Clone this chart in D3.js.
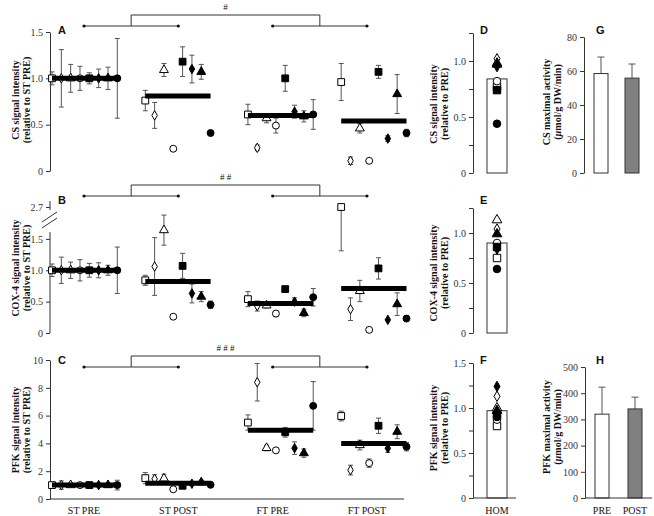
<!DOCTYPE html>
<html><head><meta charset="utf-8">
<script src="https://cdn.jsdelivr.net/npm/d3@7"></script>
<style>body{margin:0;background:#fff}svg{display:block}</style>
</head><body><svg id="c" width="654" height="516"></svg>
<script>
// ---------------- DATA ----------------
const groups = ["ST PRE", "ST POST", "FT PRE", "FT POST"];
// subject marker order: open square, open diamond, open triangle, open circle, filled square, filled diamond, filled triangle, filled circle
const subjects = ["S1", "S2", "S3", "S4", "S5", "S6", "S7", "S8"];

const csValues = [
  [1, 1, 1, 1, 1, 1, 1, 1],
  [0.76, 0.60, 1.09, 0.24, 1.18, 1.10, 1.07, 0.41],
  [0.61, 0.25, 0.57, 0.49, 1.00, 0.64, 0.59, 0.61],
  [0.96, 0.11, 0.46, 0.11, 1.07, 0.35, 0.83, 0.41]
];
const csErrors = [
  [0.07, 0.31, 0.15, 0.13, 0.06, 0.10, 0.12, 0.43],
  [0.11, 0.14, 0.07, 0.02, 0.16, 0.15, 0.08, 0],
  [0.11, 0.03, 0.05, 0.08, 0.14, 0.07, 0.06, 0.16],
  [0.20, 0.04, 0.05, 0, 0.07, 0.03, 0.21, 0.04]
];
const csGroupMeans = [1.0, 0.81, 0.60, 0.54];

const coxValues = [
  [1, 1, 1, 1, 1, 1, 1, 1],
  [0.84, 1.06, 1.64, 0.26, 1.07, 0.63, 0.58, 0.45],
  [0.54, 0.43, 0.44, 0.31, 0.70, 0.50, 0.32, 0.57],
  [2.7, 0.38, 0.67, 0.05, 1.03, 0.21, 0.46, 0.23]
];
const coxErrors = [
  [0.10, 0.21, 0.13, 0.17, 0.11, 0.12, 0.08, 0.37],
  [0.08, 0.46, 0.24, 0, 0.20, 0.15, 0.08, 0.06],
  [0.12, 0.08, 0.04, 0.05, 0, 0.06, 0.06, 0.14],
  [1.39, 0.18, 0.17, 0, 0.17, 0, 0.18, 0.04]
];
const coxGroupMeans = [1.0, 0.82, 0.47, 0.71];

const pfkValues = [
  [1, 1, 1, 1, 1, 1, 1, 1],
  [1.50, 1.45, 1.48, 0.70, 0.95, 1.10, 1.20, 1.02],
  [5.50, 8.40, 3.67, 3.50, 4.80, 3.66, 3.30, 6.70],
  [5.97, 2.08, 3.88, 2.58, 5.27, 3.65, 4.84, 3.76]
];
const pfkErrors = [
  [0.15, 0.30, 0.15, 0.15, 0.20, 0.15, 0.15, 0.35],
  [0.40, 0.30, 0.30, 0, 0.15, 0.10, 0.15, 0.10],
  [0.55, 1.35, 0.20, 0.15, 0.35, 0.45, 0.30, 1.75],
  [0.35, 0.35, 0.35, 0.30, 0.55, 0.30, 0.50, 0.30]
];
const pfkGroupMeans = [1.0, 1.13, 4.94, 4.0];

const homCategory = ["HOM"];
const homCS = [0.77, 1.02, 0.98, 0.82, 0.74, 0.95, 0.97, 0.44];
const homCSMean = 0.84;
const homCOX = [0.75, 1.04, 1.13, 0.90, 0.86, 0.84, 0.99, 0.64];
const homCOXMean = 0.90;
const homPFK = [0.80, 1.13, 1.00, 0.87, 0.92, 1.24, 0.97, 0.90];
const homPFKMean = 0.97;

const timepoints = ["PRE", "POST"];
const csActivity = [58.5, 55.8];
const csActivitySD = [9.7, 8.3];
const pfkActivity = [320, 340];
const pfkActivitySD = [103, 45];

const significance = ["#", "# #", "# # #"];

// ---------------- LAYOUT ----------------
const svg = d3.select("#c");
const SERIF = "'Liberation Serif','Times New Roman',serif";
const SANS = "'Liberation Sans',Arial,sans-serif";
const AX = "#333";

const x = d3.scaleLinear().domain([0, 38]).range([52, 406.5]);
const slotStart = [0, 10, 21, 31];
const catX = d3.scalePoint().domain(groups).range([84, 367]);

function symPath(i, k) {
  const types = [d3.symbolSquare, d3.symbolDiamond, d3.symbolTriangle, d3.symbolCircle];
  const sizes = [46, 26, 34, 38];
  return d3.symbol().type(types[i % 4]).size(sizes[i % 4] * k)();
}
function marker(g, cx, cy, i, k) {
  g.append("path").attr("d", symPath(i, k))
    .attr("transform", `translate(${cx},${cy})`)
    .attr("fill", i < 4 ? "#fff" : "#000")
    .attr("stroke", "#000").attr("stroke-width", 1);
}
function errBar(g, cx, y1, y2, cap, color) {
  g.append("line").attr("x1", cx).attr("x2", cx).attr("y1", y1).attr("y2", y2)
    .attr("stroke", color).attr("stroke-width", 1);
  [y1, y2].forEach(yy => g.append("line").attr("x1", cx - cap).attr("x2", cx + cap)
    .attr("y1", yy).attr("y2", yy).attr("stroke", color).attr("stroke-width", 1));
}
function yAxis(g, y, xPos, tickVals, labelFn, domain) {
  const ax = d3.axisLeft(y).tickValues(tickVals).tickSize(4).tickSizeOuter(0).tickPadding(3)
    .tickFormat(labelFn);
  const a = g.append("g").attr("transform", `translate(${xPos},0)`).call(ax);
  a.attr("font-family", SERIF).attr("font-size", 10);
  a.selectAll("text").attr("fill", AX);
  a.selectAll("line").attr("stroke", AX);
  a.select(".domain").attr("stroke", AX);
  if (domain === false) a.select(".domain").remove();
  return a;
}
function yTitle(cx, cy, lines) {
  lines.forEach((ln, i) => {
    const t = svg.append("text")
      .attr("transform", `translate(${ln.x},${cy}) rotate(-90)`)
      .attr("text-anchor", "middle").attr("font-family", SERIF)
      .attr("font-weight", "bold").attr("font-size", 10).attr("fill", "#111");
    if (ln.mu) {
      t.append("tspan").text("(");
      t.append("tspan").attr("font-style", "italic").text("\u00b5");
      t.append("tspan").text(ln.text.slice(2));
    } else t.text(ln.text);
  });
}
function letter(txt, lx, ly) {
  svg.append("text").attr("x", lx).attr("y", ly).attr("font-family", SANS)
    .attr("font-weight", "bold").attr("font-size", 11).attr("fill", "#111").text(txt);
}
function bracket(yTop, yLow, label) {
  const g = svg.append("g").attr("stroke", AX).attr("stroke-width", 1).attr("fill", "none");
  const m1 = (catX(groups[0]) + catX(groups[1])) / 2;
  const m2 = (catX(groups[2]) + catX(groups[3])) / 2;
  g.append("path").attr("d", `M${m1},${yLow}V${yTop}H${m2}V${yLow}`);
  [[0, 1], [2, 3]].forEach(([a, b]) => {
    g.append("line").attr("x1", catX(groups[a])).attr("x2", catX(groups[b]))
      .attr("y1", yLow).attr("y2", yLow);
    [a, b].forEach(k => svg.append("circle").attr("cx", catX(groups[k])).attr("cy", yLow)
      .attr("r", 1.6).attr("fill", "#111"));
  });
  svg.append("text").attr("x", (m1 + m2) / 2).attr("y", yTop - 5).attr("text-anchor", "middle")
    .attr("font-family", SERIF).attr("font-size", 9).attr("fill", "#111").text(label);
}
function scatterPanel(y, vals, errs, means) {
  const g = svg.append("g");
  vals.forEach((row, gi) => row.forEach((v, i) => {
    const e = errs[gi][i];
    if (e > 0) errBar(g, x(slotStart[gi] + i), y(v - e), y(v + e), 2.5, "#555");
  }));
  vals.forEach((row, gi) => row.forEach((v, i) => marker(g, x(slotStart[gi] + i), y(v), i, 1)));
  means.forEach((m, gi) => {
    g.append("line").attr("x1", x(slotStart[gi])).attr("x2", x(slotStart[gi] + 7))
      .attr("y1", y(m)).attr("y2", y(m)).attr("stroke", "#000").attr("stroke-width", 5);
  });
}
const fmt1 = d => d === 0 ? "0" : d3.format(".1f")(d);

// ---- Panel A ----
const yA = d3.scaleLinear().domain([0, 1.5]).range([171, 32]);
yAxis(svg, yA, 50, [0, 0.5, 1, 1.5], fmt1);
scatterPanel(yA, csValues, csErrors, csGroupMeans);
bracket(15, 26, significance[0]);
letter("A", 58, 34);
yTitle(0, 100, [{x: 18.5, text: "CS signal intensity"}, {x: 29.5, text: "(relative to ST PRE)"}]);

// ---- Panel B ----
const yB = d3.scaleLinear().domain([0, 1.95, 2.7, 2.8]).range([333, 210.7, 207, 206]).clamp(true);
yAxis(svg, yB, 50, [0, 0.5, 1, 1.5, 2.7], d => d === 0 ? "0" : d3.format(".1f")(d), false);
svg.append("line").attr("x1", 50).attr("x2", 50).attr("y1", yB(0)).attr("y2", 232).attr("stroke", AX);
svg.append("line").attr("x1", 50).attr("x2", 50).attr("y1", 201).attr("y2", 210).attr("stroke", AX);
svg.append("line").attr("x1", 42).attr("x2", 57).attr("y1", 222).attr("y2", 212).attr("stroke", AX);
svg.append("line").attr("x1", 42).attr("x2", 57).attr("y1", 228).attr("y2", 218).attr("stroke", AX);
scatterPanel(yB, coxValues, coxErrors, coxGroupMeans);
bracket(185, 196, significance[1]);
letter("B", 58, 204);
yTitle(0, 268, [{x: 18.5, text: "COX-4 signal intensity"}, {x: 29.5, text: "(relative to ST PRE)"}]);

// ---- Panel C ----
const yC = d3.scaleLinear().domain([0, 10]).range([499, 360]);
yAxis(svg, yC, 50, [0, 2, 4, 6, 8, 10], d3.format("d"));
svg.append("line").attr("x1", 50).attr("x2", 404).attr("y1", 499).attr("y2", 499).attr("stroke", AX);
scatterPanel(yC, pfkValues, pfkErrors, pfkGroupMeans);
bracket(356, 367, significance[2]);
letter("C", 58, 364);
yTitle(0, 430, [{x: 18.5, text: "PFK signal intensity"}, {x: 29.5, text: "(relative to ST PRE)"}]);
groups.forEach(gn => svg.append("text").attr("x", catX(gn)).attr("y", 514).attr("text-anchor", "middle")
  .attr("font-family", SERIF).attr("font-size", 10).attr("fill", "#111").text(gn));

// ---- HOM panels D/E/F ----
const homX = d3.scalePoint().domain(homCategory).range([497, 497]);
function homPanel(y, vals, mean, ticks, labels, axisLine) {
  yAxis(svg, y, 473, ticks, d => labels.includes(d) ? fmt1(d) : "");
  const g = svg.append("g");
  const cx = homX("HOM");
  g.append("rect").attr("x", cx - 10).attr("width", 20).attr("y", y(mean))
    .attr("height", y(0) - y(mean)).attr("fill", "#fff").attr("stroke", AX);
  vals.forEach((v, i) => marker(g, cx, y(v), i, 1.2));
  if (axisLine) {
    svg.append("line").attr("x1", 473).attr("x2", 516).attr("y1", y(0)).attr("y2", y(0)).attr("stroke", AX);
  }
}
const yD = d3.scaleLinear().domain([0, 1.25]).range([173, 33]);
homPanel(yD, homCS, homCSMean, [0, 0.25, 0.5, 0.75, 1, 1.25], [0, 0.5, 1], false);
letter("D", 480, 34);
yTitle(0, 104, [{x: 437, text: "CS signal intensity"}, {x: 448, text: "(relative to PRE)"}]);

const yE = d3.scaleLinear().domain([0, 1.25]).range([333, 208]);
homPanel(yE, homCOX, homCOXMean, [0, 0.25, 0.5, 0.75, 1, 1.25], [0, 0.5, 1], false);
letter("E", 480, 204);
yTitle(0, 273, [{x: 437, text: "COX-4 signal intensity"}, {x: 448, text: "(relative to PRE)"}]);

const yF = d3.scaleLinear().domain([0, 1.5]).range([498, 363]);
homPanel(yF, homPFK, homPFKMean, [0, 0.25, 0.5, 0.75, 1, 1.25, 1.5], [0, 0.5, 1, 1.5], true);
letter("F", 480, 364);
yTitle(0, 428, [{x: 437, text: "PFK signal intensity"}, {x: 448, text: "(relative to PRE)"}]);
svg.append("text").attr("x", homX("HOM")).attr("y", 514).attr("text-anchor", "middle")
  .attr("font-family", SERIF).attr("font-size", 10).attr("fill", "#111").text("HOM");

// ---- Activity panels G/H ----
function actPanel(y, xPos, xc, vals, sds, ticks, axisLine) {
  yAxis(svg, y, xPos, ticks, d3.format("d"));
  const g = svg.append("g");
  vals.forEach((v, i) => {
    const cx = xc(timepoints[i]);
    const top = y(v + sds[i]);
    g.append("line").attr("x1", cx).attr("x2", cx).attr("y1", y(v)).attr("y2", top).attr("stroke", "#555");
    g.append("line").attr("x1", cx - 3.5).attr("x2", cx + 3.5).attr("y1", top).attr("y2", top).attr("stroke", "#555");
    g.append("rect").attr("x", cx - 7).attr("width", 14).attr("y", y(v)).attr("height", y(0) - y(v))
      .attr("fill", i === 0 ? "#fff" : "#808080").attr("stroke", AX);
  });
  if (axisLine) svg.append("line").attr("x1", xPos).attr("x2", 652).attr("y1", y(0)).attr("y2", y(0)).attr("stroke", AX);
}
const gX = d3.scalePoint().domain(timepoints).range([601, 632]);
const yG = d3.scaleLinear().domain([0, 80]).range([173, 37]);
actPanel(yG, 584, gX, csActivity, csActivitySD, [0, 20, 40, 60, 80], false);
letter("G", 596, 34);
yTitle(0, 102, [{x: 550, text: "CS maximal activity"}, {x: 561, text: "(\u00b5mol/g DW/min)", mu: true}]);

const hX = d3.scalePoint().domain(timepoints).range([602, 635]);
const yH = d3.scaleLinear().domain([0, 500]).range([498, 367]);
actPanel(yH, 585, hX, pfkActivity, pfkActivitySD, [0, 100, 200, 300, 400, 500], true);
letter("H", 596, 364);
yTitle(0, 427, [{x: 550, text: "PFK maximal activity"}, {x: 561, text: "(\u00b5mol/g DW/min)", mu: true}]);
timepoints.forEach(t => svg.append("text").attr("x", hX(t)).attr("y", 514).attr("text-anchor", "middle")
  .attr("font-family", SERIF).attr("font-size", 10).attr("fill", "#111").text(t));
</script>
</body></html>
